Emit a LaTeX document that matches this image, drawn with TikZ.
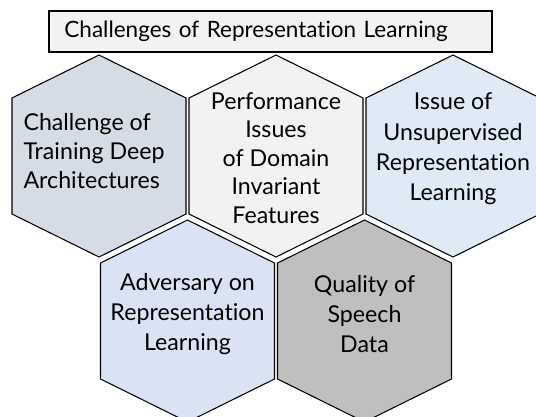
\documentclass[tikz,border=0pt]{standalone}
\usepackage{fontspec}
\setmainfont{Lato}[Ligatures=NoCommon]
\usepackage{xcolor}
\usetikzlibrary{calc}

\definecolor{cellslate}{HTML}{D6DCE5}
\definecolor{cellgray}{HTML}{F2F2F2}
\definecolor{cellsky}{HTML}{DEEBF7}
\definecolor{cellblue}{HTML}{DAE3F3}
\definecolor{celldark}{HTML}{BFBFBF}

\begin{document}
\begin{tikzpicture}[x=0.025cm, y=-0.025cm]
        % ================= 样式定义 =================
        \tikzset{
            % 六边形:细黑边
            hexcell/.style={draw=black, line width=0.75pt, line join=miter},
            % 六边形内文字
            celltext/.style={align=center, inner sep=0pt, font=\fontsize{16.5}{20.3}\selectfont},
            % 行距稍大的文字
            widetext/.style={celltext, font=\fontsize{16.5}{21.6}\selectfont},
            % 标题框:粗黑边浅灰底
            titlebox/.style={draw=black, line width=1.6pt, fill=cellgray,
                minimum width=11.075cm, minimum height=1.025cm, inner xsep=0.35cm,
                text width=10.3cm, align=left, font=\fontsize{16}{19}\selectfont}
        }

        % 画布边界 (右侧六边形被截断)
        \clip (0,0) rectangle (536,416);

        % ================= 坐标定义 =================
        \coordinate (c1) at (99,156);
        \coordinate (c2) at (276,156);
        \coordinate (c3) at (453,156);
        \coordinate (c4) at ($(c1)!0.5!(c2)+(0,165)$);
        \coordinate (c5) at ($(c2)!0.5!(c3)+(0,165)$);

        % ================= 六边形 =================
        \foreach \c/\col in {c1/cellslate, c2/cellgray, c3/cellsky, c4/cellblue, c5/celldark} {
            \draw[hexcell, fill=\col] (\c) ++(0,-101) -- ++(87,43) -- ++(0,116)
                -- ++(-87,43) -- ++(-87,-43) -- ++(0,-116) -- cycle;
        }

        % ================= 文字 =================
        \node[titlebox] (title) at (270.5,31.5) {Challenges of Representation Learning};

        \node[celltext, align=left] (train) at ($(c1)+(-5,-5)$) {Challenge of\\Training Deep\\Architectures};
        \node[celltext] (domain) at ($(c2)+(0,2)$) {Performance\\Issues\\of Domain\\Invariant\\Features};
        \node[widetext] (unsup) at ($(c3)+(0,-7)$) {Issue of\\Unsupervised\\Representation\\Learning};
        \node[widetext] (adv) at ($(c4)+(0,-7)$) {Adversary on\\Representation\\Learning};
        \node[widetext] (speech) at ($(c5)+(0,-7)$) {Quality of\\Speech\\Data};

    \end{tikzpicture}
\end{document}
